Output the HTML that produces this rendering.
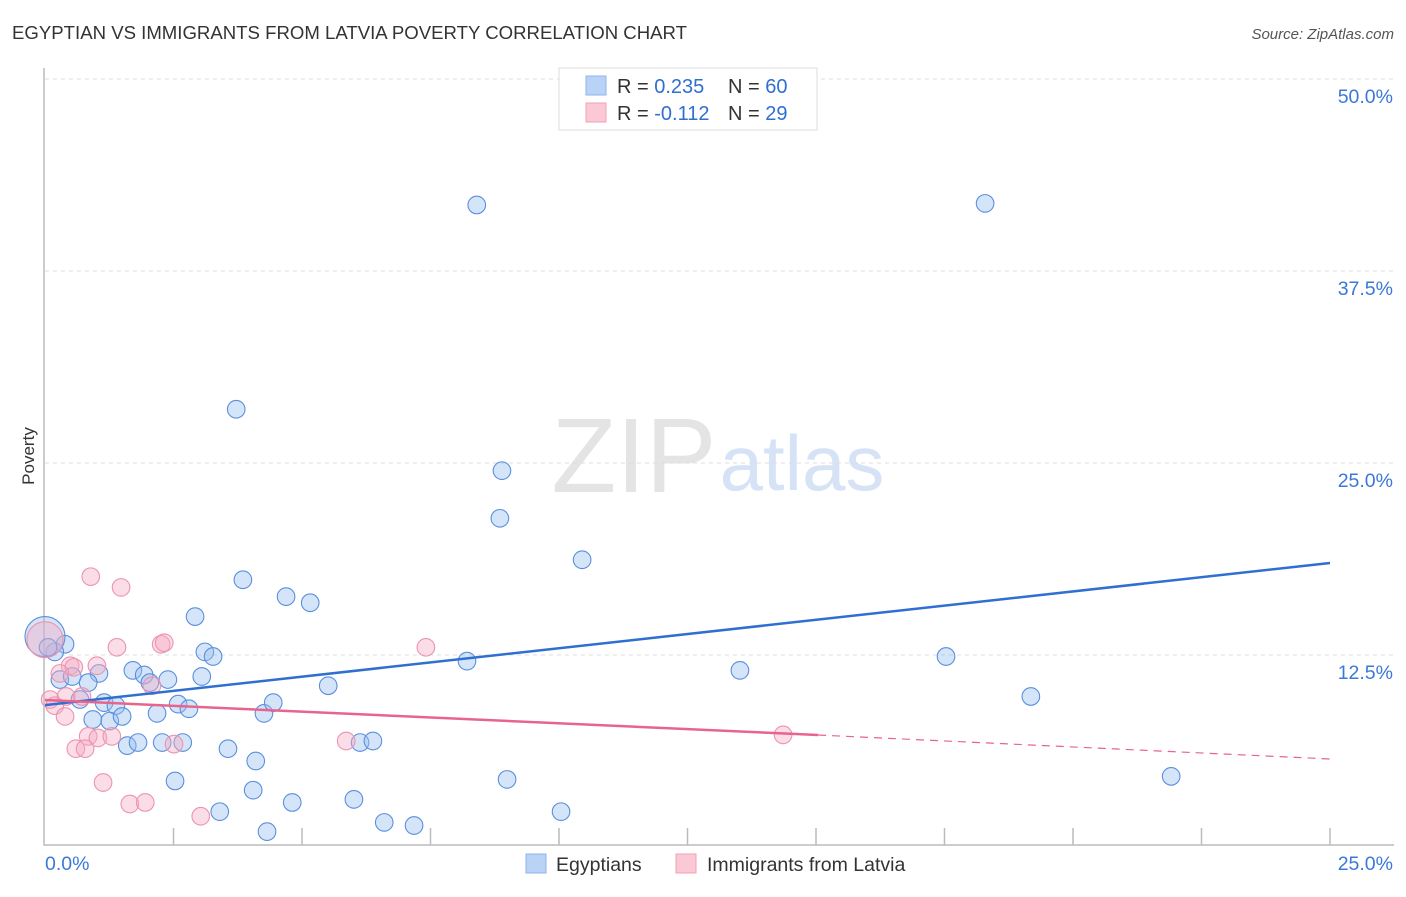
<!DOCTYPE html>
<html><head><meta charset="utf-8"><style>
body{margin:0;background:#fff;font-family:"Liberation Sans",sans-serif;}
svg text{font-family:"Liberation Sans",sans-serif;}
</style></head><body>
<svg id="chart" width="1406" height="892" xmlns="http://www.w3.org/2000/svg">
<text x="12" y="39" font-size="18.6" fill="#333">EGYPTIAN VS IMMIGRANTS FROM LATVIA POVERTY CORRELATION CHART</text>
<text x="1394" y="39" font-size="15" fill="#555" font-style="italic" text-anchor="end">Source: ZipAtlas.com</text>
<text x="634" y="492" font-size="106" fill="#e4e4e4" font-family="Liberation Serif,serif" text-anchor="middle">ZIP</text>
<text x="802" y="490" font-size="78" fill="#d6e2f5" text-anchor="middle">atlas</text>
<text transform="translate(34,456) rotate(-90)" font-size="17" fill="#333" text-anchor="middle">Poverty</text>
<g id="grid"></g><g id="axes"></g><g id="points"></g><g id="trends"></g>
<g>
<rect x="559" y="68" width="258" height="62" fill="#fff" stroke="#ddd"/>
<rect x="586" y="76" width="20" height="19" fill="#b9d3f7" stroke="#8fb3e8"/>
<rect x="586" y="103" width="20" height="19" fill="#fbc8d6" stroke="#f0a0b8"/>
<text x="617" y="93" font-size="20" fill="#333">R = <tspan fill="#2f6fd0">0.235</tspan><tspan x="728">N = </tspan><tspan fill="#2f6fd0">60</tspan></text>
<text x="617" y="120" font-size="20" fill="#333">R = <tspan fill="#2f6fd0">-0.112</tspan><tspan x="728">N = </tspan><tspan fill="#2f6fd0"> 29</tspan></text>
</g>
<g>
<rect x="526" y="854" width="20" height="19" fill="#b9d3f7" stroke="#8fb3e8"/>
<text x="556" y="871" font-size="19.5" fill="#333">Egyptians</text>
<rect x="676" y="854" width="20" height="19" fill="#fbc8d6" stroke="#f0a0b8"/>
<text x="707" y="871" font-size="19.5" fill="#333">Immigrants from Latvia</text>
</g>
</svg>
<script>
const yTicks=[12.5,25,37.5,50];
const yTickLabels=["12.5%","25.0%","37.5%","50.0%"];
const xTicks=[2.5,5,7.5,10,12.5,15,17.5,20,22.5,25];
const blueX=[8.40,18.29,3.72,8.89,8.85,10.45,3.85,4.69,5.16,2.92,3.11,3.27,0.39,0.19,0.29,0.53,1.05,0.84,1.71,1.93,2.39,2.04,3.05,5.51,8.21,13.52,17.53,19.18,0.68,1.15,1.38,2.59,2.80,4.26,4.44,0.93,1.26,1.50,2.18,1.60,1.81,2.28,2.68,3.56,4.10,6.13,6.38,2.53,4.05,3.40,4.81,6.01,6.60,7.18,4.32,8.99,10.04,21.91,0,0.06];
const blueY=[41.8,41.9,28.5,24.5,21.4,18.7,17.4,16.3,15.9,15.0,12.7,12.4,13.2,12.7,10.9,11.1,11.3,10.7,11.5,11.2,10.9,10.7,11.1,10.5,12.1,11.5,12.4,9.8,9.6,9.4,9.2,9.3,9.0,8.7,9.4,8.3,8.2,8.5,8.7,6.6,6.8,6.8,6.8,6.4,5.6,6.8,6.9,4.3,3.7,2.3,2.9,3.1,1.6,1.4,1.0,4.4,2.3,4.6,13.7,13.0];
const blueBig=[58];
const pinkX=[0.89,1.48,1.40,2.26,2.32,7.41,0.49,0.56,1.01,0.29,2.08,0.72,0.10,0.19,0.39,0.84,1.03,1.30,0.60,0.78,2.51,5.86,14.36,1.13,1.65,1.95,3.03,0,0.41];
const pinkY=[17.6,16.9,13.0,13.2,13.3,13.0,11.8,11.7,11.8,11.3,10.5,9.8,9.6,9.2,8.5,7.2,7.1,7.2,6.4,6.4,6.7,6.9,7.3,4.2,2.8,2.9,2.0,13.5,9.8];
const pinkBig=[27];
const blueTrendX=[0,25], blueTrendY=[9.24,18.49];
const pinkTrendX=[0,15.04,25], pinkTrendY=[9.57,7.29,5.73];
const NS="http://www.w3.org/2000/svg";
const sx=v=>45+v/25*1285, sy=v=>847-v/12.5*192;
function mk(t,a,p){const e=document.createElementNS(NS,t);for(const k in a)e.setAttribute(k,a[k]);p.appendChild(e);return e;}
const grid=document.getElementById('grid'),axes=document.getElementById('axes'),pts=document.getElementById('points'),tr=document.getElementById('trends');
yTicks.forEach((v,i)=>{
 const l=mk('line',{x1:45,x2:1394,y1:sy(v),y2:sy(v),stroke:'#ddd','stroke-dasharray':'4,4'},grid);
 
 
 const t=mk('text',{x:1393,y:sy(v)+24,'font-size':19.5,fill:'#3b78d8','text-anchor':'end'},grid);
 t.textContent=yTickLabels[i];
 
 
});
const ax=mk('path',{d:'M44,68V845H1394',stroke:'#bbb',fill:'none','stroke-width':1.5},axes);


xTicks.forEach(v=>{
 const l=mk('line',{x1:sx(v),x2:sx(v),y1:828,y2:845,stroke:'#bbb','stroke-width':1.5},axes);
 
 
});
const xl0=mk('text',{x:45,y:870,'font-size':19.5,fill:'#3b78d8'},axes);xl0.textContent='0.0%';


const xl1=mk('text',{x:1393,y:870,'font-size':19.5,fill:'#3b78d8','text-anchor':'end'},axes);xl1.textContent='25.0%';


blueX.forEach((x,i)=>{
 const c=mk('circle',{cx:sx(x),cy:sy(blueY[i]),r:blueBig.includes(i)?20:8.8,fill:'rgba(150,190,240,0.4)',stroke:'#5b8fdc','stroke-width':1.1},pts);
 
 
});
pinkX.forEach((x,i)=>{
 const c=mk('circle',{cx:sx(x),cy:sy(pinkY[i]),r:pinkBig.includes(i)?18:8.8,fill:'rgba(245,170,195,0.4)',stroke:'#ec94b0','stroke-width':1.1},pts);
 
 
});
const bl=mk('line',{x1:sx(blueTrendX[0]),y1:sy(blueTrendY[0]),x2:sx(blueTrendX[1]),y2:sy(blueTrendY[1]),stroke:'#2f6fd0','stroke-width':2.5},tr);


const pl=mk('line',{x1:sx(pinkTrendX[0]),y1:sy(pinkTrendY[0]),x2:sx(pinkTrendX[1]),y2:sy(pinkTrendY[1]),stroke:'#e8648f','stroke-width':2.5},tr);


const pd=mk('line',{x1:sx(pinkTrendX[1]),y1:sy(pinkTrendY[1]),x2:sx(pinkTrendX[2]),y2:sy(pinkTrendY[2]),stroke:'#e8648f','stroke-width':1.2,'stroke-dasharray':'8,6'},tr);


</script>
</body></html>
